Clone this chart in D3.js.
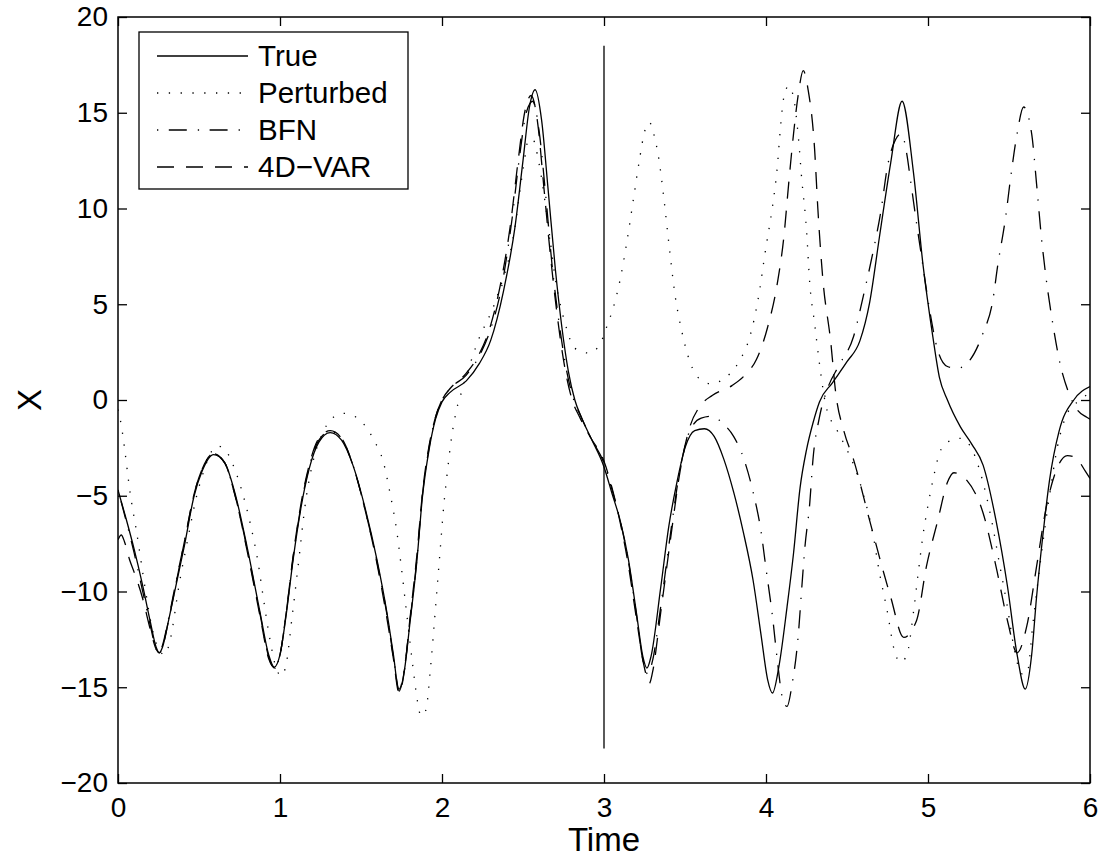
<!DOCTYPE html>
<html>
<head>
<meta charset="utf-8">
<script src="https://cdn.jsdelivr.net/npm/d3@7"></script>
<style>
  body { margin: 0; background: #fff; }
  text { font-family: "Liberation Sans", Arial, Helvetica, sans-serif; fill: #000; }
</style>
</head>
<body>
<svg id="chart" width="1099" height="859"></svg>
<script>
// tick labels
const xTicks = [0, 1, 2, 3, 4, 5, 6];
const yTicks = [-20, -15, -10, -5, 0, 5, 10, 15, 20];

// True
const tTrue = [0,0.05,0.1,0.15,0.2,0.235,0.255,0.275,0.31,0.36,0.41,0.47,0.52,0.59,0.66,0.72,0.8,0.877,0.93,0.965,1.0,1.04,1.08,1.13,1.18,1.24,1.31,1.38,1.45,1.53,1.6,1.66,1.7,1.735,1.77,1.8,1.845,1.88,1.92,1.96,2.0,2.05,2.15,2.23,2.3,2.38,2.45,2.5,2.54,2.575,2.615,2.655,2.7,2.74,2.78,2.82,2.86,2.92,3.0,3.05,3.1,3.15,3.2,3.24,3.265,3.29,3.35,3.4,3.45,3.5,3.56,3.62,3.68,3.74,3.8,3.86,3.92,3.97,4.01,4.04,4.08,4.13,4.17,4.21,4.25,4.29,4.33,4.41,4.5,4.58,4.64,4.7,4.77,4.84,4.91,4.97,5.03,5.07,5.12,5.2,5.27,5.34,5.42,5.49,5.55,5.6,5.64,5.67,5.71,5.75,5.81,5.9,6.0];
const xTrue = [-4.7,-6.2,-7.8,-9.6,-11.6,-12.9,-13.2,-12.9,-11.6,-9.6,-7.6,-5.0,-3.7,-2.85,-3.3,-4.8,-7.8,-11.1,-13.3,-13.95,-13.3,-11.1,-8.4,-5.6,-3.6,-2.2,-1.7,-2.1,-3.4,-5.8,-8.4,-11.1,-13.3,-15.2,-14.0,-11.8,-8.4,-5.0,-2.6,-1.0,-0.1,0.4,1.0,1.9,3.1,5.7,9.0,12.5,15.3,16.2,14.6,11.0,6.8,3.8,1.5,0.0,-0.9,-2.0,-3.5,-4.9,-6.3,-8.3,-11.1,-13.4,-14.0,-13.4,-9.8,-6.6,-4.3,-2.5,-1.6,-1.5,-1.9,-3.1,-4.8,-6.9,-9.4,-12.3,-14.6,-15.3,-13.9,-10.8,-8.0,-4.6,-2.6,-1.2,-0.1,0.9,2.0,3.1,5.1,8.5,12.4,15.6,11.9,7.0,3.3,1.2,0.0,-1.4,-2.3,-3.4,-6.3,-9.7,-13.3,-15.1,-13.3,-10.3,-7.0,-4.2,-1.6,0.0,0.7];

// Perturbed
const tPert = [0,0.02,0.043,0.074,0.115,0.167,0.21,0.25,0.29,0.32,0.38,0.43,0.48,0.53,0.57,0.615,0.67,0.72,0.77,0.815,0.865,0.9,0.94,0.98,1.01,1.04,1.075,1.11,1.16,1.21,1.26,1.31,1.39,1.47,1.53,1.58,1.64,1.68,1.72,1.75,1.78,1.82,1.85,1.87,1.9,1.93,1.95,1.97,1.99,2.01,2.03,2.06,2.09,2.12,2.21,2.34,2.44,2.5,2.535,2.56,2.6,2.65,2.7,2.76,2.82,2.91,2.98,3.02,3.06,3.1,3.14,3.18,3.22,3.25,3.28,3.31,3.34,3.37,3.4,3.44,3.48,3.53,3.59,3.66,3.72,3.78,3.84,3.9,3.95,4.0,4.04,4.07,4.09,4.11,4.14,4.17,4.2,4.22,4.25,4.27,4.3,4.33,4.37,4.44,4.5,4.56,4.6,4.66,4.7,4.75,4.79,4.83,4.87,4.91,4.94,4.97,5.0,5.03,5.07,5.12,5.2,5.26,5.32,5.36,5.4,5.44,5.49,5.53,5.58,5.61,5.65,5.69,5.75,5.8,5.86,5.94,6.0];
const xPert = [-0.5,-1.3,-2.7,-4.8,-6.9,-9.8,-11.9,-13.0,-13.3,-12.6,-9.5,-7.3,-5.2,-3.7,-2.8,-2.4,-2.7,-3.6,-4.9,-6.4,-8.5,-10.5,-12.6,-14.1,-14.4,-13.7,-11.3,-8.8,-5.2,-3.0,-1.8,-1.05,-0.7,-0.9,-1.4,-2.1,-3.3,-4.9,-6.8,-8.8,-11.0,-13.9,-15.8,-16.5,-16.2,-13.9,-11.9,-9.8,-7.7,-5.6,-4.0,-1.9,-0.5,0.4,2.8,5.4,8.5,12.0,13.6,13.6,12.3,9.5,6.3,4.0,2.7,2.45,3.0,3.9,4.9,6.3,8.2,10.4,12.6,14.0,14.5,13.8,12.5,10.5,8.2,5.4,3.6,2.0,1.1,0.85,1.0,1.4,2.1,3.3,5.2,8.0,10.1,12.2,14.3,15.8,16.4,15.8,13.7,11.6,8.9,6.1,4.0,1.9,-0.3,-1.6,-2.6,-3.8,-4.9,-7.0,-9.0,-11.1,-13.0,-13.7,-13.3,-11.1,-9.0,-7.0,-5.5,-4.2,-2.8,-2.2,-2.0,-2.4,-3.7,-5.0,-6.6,-8.5,-10.8,-12.9,-14.3,-14.3,-11.5,-8.7,-5.0,-2.4,-0.7,0.0,0.4];

// BFN
const tBfn = [0,0.05,0.1,0.15,0.2,0.235,0.255,0.275,0.31,0.36,0.41,0.47,0.52,0.59,0.66,0.72,0.8,0.877,0.93,0.965,1.0,1.04,1.08,1.13,1.18,1.24,1.31,1.38,1.45,1.53,1.6,1.66,1.7,1.735,1.77,1.8,1.845,1.88,1.92,1.96,2.0,2.05,2.15,2.23,2.3,2.37,2.43,2.48,2.52,2.56,2.6,2.64,2.68,2.72,2.77,2.81,2.86,2.92,3.0,3.05,3.1,3.15,3.2,3.24,3.27,3.3,3.35,3.41,3.47,3.53,3.6,3.67,3.73,3.8,3.86,3.92,3.97,4.0,4.04,4.07,4.1,4.13,4.16,4.2,4.22,4.24,4.27,4.29,4.33,4.38,4.45,4.54,4.6,4.66,4.71,4.75,4.8,4.835,4.87,4.89,4.93,4.96,5.01,5.06,5.12,5.18,5.26,5.34,5.4,5.43,5.48,5.51,5.55,5.59,5.64,5.67,5.7,5.73,5.77,5.81,5.87,5.92,5.98,6.0];
const xBfn = [-4.7,-6.3,-8.0,-9.9,-11.8,-13.0,-13.2,-12.8,-11.5,-9.4,-7.4,-4.9,-3.6,-2.8,-3.3,-4.9,-7.9,-11.2,-13.4,-14.0,-13.3,-11.0,-8.3,-5.5,-3.5,-2.1,-1.65,-2.0,-3.4,-5.9,-8.5,-11.2,-13.4,-15.1,-13.9,-11.7,-8.3,-4.9,-2.5,-0.9,0.0,0.6,1.3,2.3,3.7,6.0,9.3,12.8,15.0,15.6,14.0,10.7,7.0,4.2,1.5,0.1,-0.9,-2.0,-3.3,-4.7,-6.3,-8.4,-11.2,-13.6,-14.3,-13.6,-10.8,-7.0,-3.6,-1.6,-0.95,-0.85,-1.2,-1.9,-3.0,-4.8,-6.9,-8.8,-11.3,-13.6,-15.5,-16.0,-14.9,-12.2,-9.9,-7.7,-5.4,-3.1,-0.9,0.6,1.8,3.3,5.4,7.7,9.9,12.2,13.6,13.9,12.8,11.6,9.2,7.5,4.7,2.6,1.75,1.65,2.1,3.5,5.2,7.0,9.6,11.6,13.9,15.3,13.9,11.3,8.5,6.3,4.0,2.1,0.35,-0.5,-0.9,-1.0];

// 4D-VAR
const tVar = [0,0.02,0.04,0.07,0.1,0.15,0.2,0.235,0.255,0.275,0.31,0.36,0.41,0.47,0.52,0.59,0.66,0.72,0.8,0.877,0.93,0.97,1.0,1.04,1.08,1.13,1.18,1.24,1.31,1.38,1.45,1.53,1.6,1.66,1.7,1.735,1.77,1.8,1.845,1.88,1.92,1.96,2.0,2.05,2.15,2.23,2.3,2.36,2.42,2.47,2.51,2.55,2.59,2.63,2.67,2.71,2.76,2.8,2.85,2.92,3.0,3.05,3.1,3.15,3.2,3.25,3.28,3.3,3.35,3.41,3.47,3.53,3.59,3.67,3.79,3.87,3.94,4.01,4.07,4.11,4.14,4.17,4.2,4.23,4.26,4.3,4.32,4.35,4.4,4.43,4.48,4.54,4.64,4.77,4.85,4.93,4.99,5.06,5.12,5.16,5.24,5.34,5.42,5.49,5.55,5.61,5.67,5.73,5.8,5.86,5.91,5.97,6.0];
const xVar = [-7.3,-7.05,-7.4,-8.3,-9.0,-10.3,-12.0,-13.0,-13.2,-12.9,-11.6,-9.5,-7.4,-4.9,-3.6,-2.8,-3.3,-4.9,-8.0,-11.3,-13.5,-14.0,-13.3,-11.0,-8.2,-5.4,-3.4,-2.0,-1.6,-2.0,-3.4,-5.9,-8.6,-11.4,-13.5,-15.3,-14.0,-11.6,-8.1,-4.8,-2.4,-0.9,0.0,0.6,1.4,2.4,3.9,6.0,9.0,12.5,15.0,15.9,14.5,11.0,7.5,4.5,1.6,0.1,-0.9,-2.0,-3.2,-4.6,-6.4,-8.6,-11.4,-14.0,-14.8,-14.2,-11.1,-7.3,-3.7,-1.4,-0.35,0.25,0.75,1.3,2.1,3.8,6.1,8.5,11.3,13.9,16.0,17.2,16.2,13.1,10.0,6.4,3.0,0.4,-1.6,-3.1,-6.3,-10.3,-12.4,-11.5,-8.7,-6.3,-4.3,-3.8,-4.2,-5.9,-8.7,-11.5,-13.2,-11.8,-8.7,-5.6,-3.5,-2.9,-3.0,-3.7,-4.1];

// vertical marker at t = 3
const markT = 3;
const markRange = [-18.2, 18.5];

const seriesNames = ["True", "Perturbed", "BFN", "4D\u2212VAR"];
const dashes = [null, "1.3,10.5", "1.3,10.5,18,11", "17,12"];
const seriesT = [tTrue, tPert, tBfn, tVar];
const seriesX = [xTrue, xPert, xBfn, xVar];

const svg = d3.select("#chart");
const pL = 118, pR = 1090, pT = 17, pB = 783;

const x = d3.scaleLinear().domain([0, 6]).range([pL, pR]);
const y = d3.scaleLinear().domain([-20, 20]).range([pB, pT]);

svg.append("defs").append("clipPath").attr("id", "clip")
  .append("rect").attr("x", pL).attr("y", pT)
  .attr("width", pR - pL).attr("height", pB - pT);

const line = d3.line()
  .x(d => x(d[0]))
  .y(d => y(d[1]))
  .curve(d3.curveMonotoneX);

const plot = svg.append("g").attr("clip-path", "url(#clip)");

// draw series
seriesT.forEach((ts, i) => {
  const pts = ts.map((t, j) => [t, seriesX[i][j]]);
  plot.append("path")
    .datum(pts)
    .attr("d", line)
    .attr("fill", "none")
    .attr("stroke", "#000")
    .attr("stroke-width", 1.3)
    .attr("stroke-dasharray", dashes[i]);
});

// vertical line
plot.append("line")
  .attr("x1", x(markT)).attr("x2", x(markT))
  .attr("y1", y(markRange[0])).attr("y2", y(markRange[1]))
  .attr("stroke", "#000").attr("stroke-width", 1.3);

// axes (MATLAB style box, inward ticks)
const tickLen = 9;
const axisG = svg.append("g");
axisG.append("rect")
  .attr("x", pL).attr("y", pT)
  .attr("width", pR - pL).attr("height", pB - pT)
  .attr("fill", "none").attr("stroke", "#000").attr("stroke-width", 1.5);

const xAxB = d3.axisBottom(x).tickValues(xTicks).tickSizeInner(-tickLen).tickSizeOuter(0).tickPadding(14)
  .tickFormat(d3.format("d"));
const xAxT = d3.axisTop(x).tickValues(xTicks).tickSizeInner(-tickLen).tickSizeOuter(0).tickFormat("");
const yAxL = d3.axisLeft(y).tickValues(yTicks).tickSizeInner(-tickLen).tickSizeOuter(0).tickPadding(10)
  .tickFormat(d => d < 0 ? "\u2212" + Math.abs(d) : d);
const yAxR = d3.axisRight(y).tickValues(yTicks).tickSizeInner(-tickLen).tickSizeOuter(0).tickFormat("");

[[xAxB, `translate(0,${pB})`], [xAxT, `translate(0,${pT})`],
 [yAxL, `translate(${pL},0)`], [yAxR, `translate(${pR},0)`]].forEach(([ax, tr]) => {
  const g = axisG.append("g").attr("transform", tr).call(ax);
  g.select(".domain").remove();
  g.selectAll("line").attr("stroke", "#000").attr("stroke-width", 1.3);
  g.selectAll("text").style("font-family", "'Liberation Sans', Arial, sans-serif")
    .style("font-size", "28px").attr("fill", "#000");
});

// axis labels
svg.append("text")
  .attr("x", (pL + pR) / 2).attr("y", 851)
  .attr("text-anchor", "middle")
  .style("font-size", "33px")
  .text("Time");

svg.append("text")
  .attr("transform", `translate(41,${(pT + pB) / 2}) rotate(-90)`)
  .attr("text-anchor", "middle")
  .style("font-size", "33px")
  .text("X");

// legend
const lg = svg.append("g");
lg.append("rect")
  .attr("x", 139).attr("y", 32).attr("width", 269).attr("height", 157)
  .attr("fill", "#fff").attr("stroke", "#000").attr("stroke-width", 1.3);
seriesNames.forEach((name, i) => {
  const yy = 56 + i * 37;
  lg.append("line")
    .attr("x1", 157).attr("x2", 248).attr("y1", yy).attr("y2", yy)
    .attr("stroke", "#000").attr("stroke-width", 1.3)
    .attr("stroke-dasharray", dashes[i]);
  lg.append("text")
    .attr("x", 258).attr("y", yy + 10)
    .style("font-size", "29.5px")
    .text(name);
});
</script>
</body>
</html>
